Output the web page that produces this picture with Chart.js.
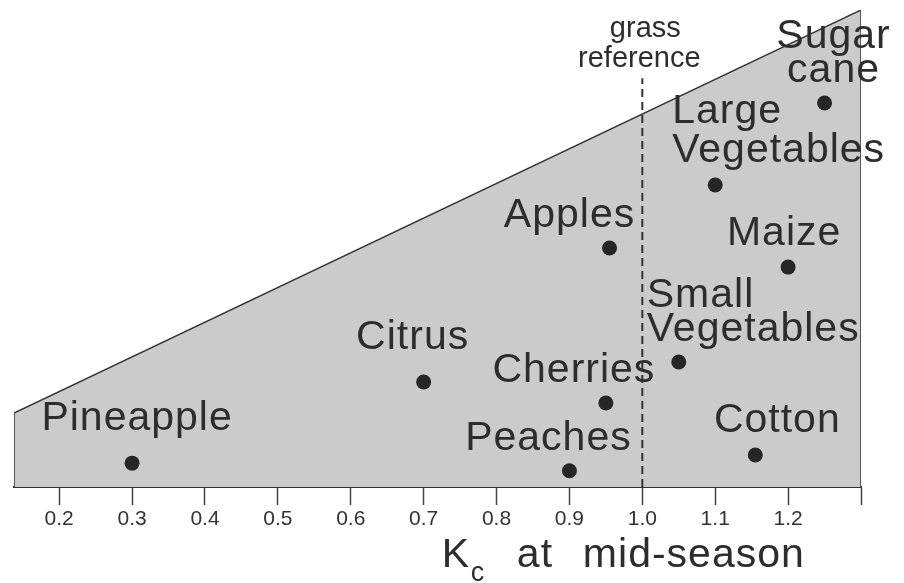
<!DOCTYPE html>
<html>
<head>
<meta charset="utf-8">
<script src="https://cdn.jsdelivr.net/npm/chart.js@4"></script>
<style>
  html, body { margin: 0; padding: 0; background: #fff; }
  #wrap { width: 904px; height: 583px; }
</style>
</head>
<body>
<div id="wrap"><canvas id="graficaKc" width="904" height="583"></canvas></div>
<script>
// crops and their mid-season Kc (x) / relative height in the figure (y)
const crops = ['Pineapple', 'Citrus', 'Peaches', 'Cherries', 'Apples', 'Small Vegetables', 'Large Vegetables', 'Maize', 'Cotton', 'Sugar cane'];
const kcValues = [0.30, 0.70, 0.90, 0.95, 0.955, 1.05, 1.10, 1.20, 1.155, 1.25];
const heightValues = [5.0, 22.0, 3.4, 17.6, 50.1, 26.2, 63.3, 46.1, 6.7, 80.5];

// grey envelope (trapezoid) and the grass reference line
const envelopeX = [0.138, 0.138, 1.30, 1.30];
const envelopeY = [0, 15.5, 100, 0];
const grassX = [1.0, 1.0];
const grassY = [0, 85.7];

const tickValues = [0.2, 0.3, 0.4, 0.5, 0.6, 0.7, 0.8, 0.9, 1.0, 1.1, 1.2, 1.3];
const tickLabels = ['0.2', '0.3', '0.4', '0.5', '0.6', '0.7', '0.8', '0.9', '1.0', '1.1', '1.2', ''];

// where each crop name sits relative to its dot (pixels)
const labelLayout = {
    'Pineapple':        { lines: ['Pineapple'], dx: 5, dy: [-33], align: 'center' },
    'Citrus':           { lines: ['Citrus'], dx: -11, dy: [-33], align: 'center' },
    'Peaches':          { lines: ['Peaches'], dx: -21, dy: [-21], align: 'center' },
    'Cherries':         { lines: ['Cherries'], dx: -32, dy: [-21], align: 'center' },
    'Apples':           { lines: ['Apples'], dx: -40, dy: [-21], align: 'center' },
    'Small Vegetables': { lines: ['Small', 'Vegetables'], dx: -32, dy: [-55, -21], align: 'left' },
    'Large Vegetables': { lines: ['Large', 'Vegetables'], dx: -43, dy: [-62, -23], align: 'left' },
    'Maize':            { lines: ['Maize'], dx: -4, dy: [-22], align: 'center' },
    'Cotton':           { lines: ['Cotton'], dx: 22, dy: [-23], align: 'center' },
    'Sugar cane':       { lines: ['Sugar', 'cane'], dx: 9, dy: [-55, -21], align: 'center' }
};

const textColor = '#2d2d2d';
const fontFamily = '"Liberation Sans", Arial, Helvetica, sans-serif';

const textPlugin = {
    id: 'textos',
    afterDatasetsDraw(chart) {
        const ctx = chart.ctx;
        const xs = chart.scales.x;
        const ys = chart.scales.y;
        ctx.save();
        ctx.fillStyle = textColor;
        ctx.textBaseline = 'alphabetic';

        // crop names
        ctx.font = '41px ' + fontFamily;
        ctx.letterSpacing = '1px';
        crops.forEach((name, i) => {
            const lay = labelLayout[name];
            const px = xs.getPixelForValue(kcValues[i]);
            const py = ys.getPixelForValue(heightValues[i]);
            ctx.textAlign = lay.align;
            lay.lines.forEach((line, j) => {
                ctx.fillText(line, px + lay.dx, py + lay.dy[j]);
            });
        });

        // grass reference note above the dashed line
        const gx = xs.getPixelForValue(grassX[0]);
        ctx.font = '29px ' + fontFamily;
        ctx.letterSpacing = '0px';
        ctx.textAlign = 'center';
        ctx.fillText('grass', gx + 3, 37);
        ctx.fillText('reference', gx - 3, 67);

        // axis title: Kc at mid-season
        const tx = xs.getPixelForValue(0.725);
        ctx.textAlign = 'left';
        ctx.font = '41px ' + fontFamily;
        ctx.letterSpacing = '1px';
        ctx.fillText('K', tx, 567);
        ctx.fillText('at', tx + 75, 567);
        ctx.fillText('mid-season', tx + 141, 567);
        ctx.font = '27px ' + fontFamily;
        ctx.letterSpacing = '0px';
        ctx.fillText('c', tx + 29, 581);
        ctx.restore();
    }
};

const contexto = document.getElementById('graficaKc').getContext('2d');
const grafica = new Chart(contexto, {
    type: 'scatter',
    data: {
        datasets: [
            {
                label: 'crops',
                data: kcValues.map((k, i) => ({ x: k, y: heightValues[i] })),
                pointRadius: 7.5,
                pointHoverRadius: 7.5,
                backgroundColor: '#262626',
                borderColor: '#262626',
                borderWidth: 0,
                order: 0
            },
            {
                label: 'grass reference',
                data: grassX.map((x, i) => ({ x: x, y: grassY[i] })),
                showLine: true,
                borderColor: '#333333',
                borderWidth: 2,
                borderDash: [8, 5],
                pointRadius: 0,
                order: 1
            },
            {
                label: 'envelope',
                data: envelopeX.map((x, i) => ({ x: x, y: envelopeY[i] })),
                showLine: true,
                fill: 'origin',
                backgroundColor: '#cbcbcb',
                borderColor: '#333333',
                borderWidth: 1.5,
                tension: 0,
                pointRadius: 0,
                order: 2
            }
        ]
    },
    options: {
        responsive: false,
        animation: false,
        layout: { padding: { left: 14, right: 43, top: 10, bottom: 0 } },
        plugins: {
            legend: { display: false },
            tooltip: { enabled: false }
        },
        scales: {
            x: {
                type: 'linear',
                min: envelopeX[0],
                max: envelopeX[envelopeX.length - 1],
                afterBuildTicks: (scale) => {
                    scale.ticks = tickValues.map(v => ({ value: v }));
                },
                afterFit: (scale) => { scale.height = 96; },
                ticks: {
                    autoSkip: false,
                    maxRotation: 0,
                    padding: 2,
                    color: '#333333',
                    font: { family: fontFamily, size: 21 },
                    callback: function(value) {
                        const idx = tickValues.findIndex(t => Math.abs(t - value) < 1e-6);
                        return idx === -1 ? '' : tickLabels[idx];
                    }
                },
                grid: {
                    display: true,
                    drawOnChartArea: false,
                    drawTicks: true,
                    tickLength: 18,
                    tickColor: '#444444',
                    tickWidth: 1.5
                },
                border: { display: true, color: '#333333', width: 2 }
            },
            y: {
                type: 'linear',
                min: 0,
                max: 100,
                display: false
            }
        }
    },
    plugins: [textPlugin]
});
</script>
</body>
</html>
